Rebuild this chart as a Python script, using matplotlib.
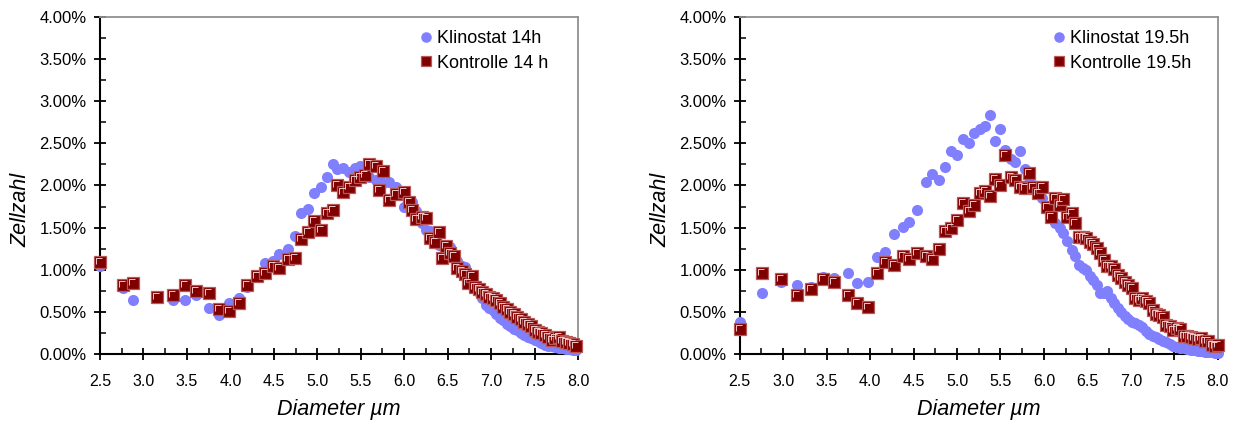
import matplotlib
matplotlib.use("Agg")
import matplotlib.pyplot as plt
from matplotlib.path import Path
from matplotlib.ticker import MultipleLocator, FuncFormatter

plt.rcParams['font.family'] = ['Liberation Sans', 'DejaVu Sans']

# ---- 14 h measurement: diameter (µm) and share of cells (%) ----
x_14h = [2.50, 2.77, 2.88, 3.15, 3.34, 3.48, 3.61, 3.75, 3.87, 3.98, 4.10, 4.19,
         4.31, 4.40, 4.49, 4.56, 4.66, 4.74, 4.81, 4.89, 4.96, 5.04, 5.11, 5.18,
         5.23, 5.30, 5.37, 5.43, 5.49, 5.55, 5.60, 5.67, 5.71, 5.76, 5.83, 5.91,
         6.00, 6.05, 6.09, 6.14, 6.20, 6.25, 6.30, 6.35, 6.40, 6.44, 6.48, 6.53,
         6.57, 6.61, 6.66, 6.70, 6.74, 6.78, 6.82, 6.86, 6.90, 6.94, 6.98, 7.02,
         7.06, 7.10, 7.14, 7.18, 7.22, 7.26, 7.30, 7.34, 7.38, 7.42, 7.46, 7.50,
         7.54, 7.58, 7.62, 7.66, 7.70, 7.74, 7.78, 7.82, 7.86, 7.90, 7.94, 7.98]
klino_14h = [1.04, 0.78, 0.645, 0.66, 0.645, 0.645, 0.70, 0.55, 0.46, 0.60, 0.66, 0.80,
             0.91, 1.08, 1.10, 1.19, 1.25, 1.40, 1.67, 1.72, 1.91, 1.98, 2.10, 2.26,
             2.19, 2.21, 2.155, 2.21, 2.23, 2.16, 2.10, 2.07, 2.04, 2.03, 2.04, 1.98,
             1.74, 1.78, 1.80, 1.70, 1.55, 1.47, 1.46, 1.32, 1.29, 1.28, 1.26, 1.27,
             1.18, 1.10, 1.05, 1.03, 0.95, 0.88, 0.80, 0.74, 0.66, 0.58, 0.55, 0.52,
             0.48, 0.43, 0.40, 0.36, 0.33, 0.30, 0.28, 0.25, 0.23, 0.20, 0.185, 0.17,
             0.15, 0.13, 0.11, 0.10, 0.09, 0.08, 0.075, 0.07, 0.06, 0.055, 0.05, 0.045]
kontr_14h = [1.09, 0.815, 0.84, 0.68, 0.70, 0.815, 0.745, 0.725, 0.53, 0.51, 0.61, 0.815,
             0.93, 0.965, 1.05, 1.02, 1.13, 1.14, 1.36, 1.45, 1.575, 1.47, 1.67, 1.71,
             2.00, 1.92, 1.98, 2.06, 2.10, 2.13, 2.25, 2.23, 1.95, 2.17, 1.83, 1.90,
             1.92, 1.80, 1.71, 1.60, 1.63, 1.615, 1.38, 1.33, 1.445, 1.14, 1.28, 1.20,
             1.16, 1.02, 0.98, 0.95, 0.84, 0.93, 0.80, 0.77, 0.74, 0.71, 0.68, 0.66,
             0.64, 0.60, 0.56, 0.53, 0.50, 0.47, 0.44, 0.41, 0.38, 0.36, 0.33, 0.29,
             0.26, 0.25, 0.23, 0.20, 0.17, 0.19, 0.20, 0.16, 0.14, 0.13, 0.12, 0.10]

# ---- 19.5 h measurement ----
x_195h = [2.50, 2.76, 2.97, 3.16, 3.32, 3.46, 3.59, 3.74, 3.85, 3.97, 4.08, 4.17,
          4.27, 4.38, 4.45, 4.54, 4.64, 4.71, 4.79, 4.86, 4.93, 5.00, 5.07, 5.14,
          5.20, 5.26, 5.32, 5.38, 5.44, 5.50, 5.55, 5.62, 5.67, 5.73, 5.78, 5.83,
          5.88, 5.93, 5.98, 6.03, 6.08, 6.13, 6.18, 6.22, 6.27, 6.32, 6.36, 6.40,
          6.45, 6.49, 6.53, 6.57, 6.61, 6.65, 6.69, 6.73, 6.77, 6.81, 6.85, 6.89,
          6.93, 6.97, 7.01, 7.05, 7.09, 7.13, 7.17, 7.21, 7.25, 7.29, 7.33, 7.37,
          7.41, 7.45, 7.49, 7.53, 7.57, 7.61, 7.65, 7.69, 7.73, 7.77, 7.81, 7.85,
          7.89, 7.93, 7.97, 8.00]
klino_195h = [0.38, 0.73, 0.86, 0.82, 0.80, 0.92, 0.90, 0.96, 0.84, 0.86, 1.15, 1.21,
              1.42, 1.51, 1.57, 1.71, 2.04, 2.14, 2.07, 2.22, 2.41, 2.36, 2.55, 2.51,
              2.62, 2.67, 2.71, 2.84, 2.53, 2.67, 2.42, 2.32, 2.28, 2.41, 2.19, 2.10,
              2.00, 1.92, 1.85, 1.75, 1.63, 1.55, 1.50, 1.44, 1.34, 1.24, 1.16, 1.06,
              1.02, 1.00, 0.93, 0.88, 0.82, 0.72, 0.72, 0.745, 0.66, 0.60, 0.55, 0.50,
              0.45, 0.42, 0.38, 0.37, 0.35, 0.32, 0.27, 0.24, 0.22, 0.20, 0.18, 0.16,
              0.14, 0.12, 0.10, 0.085, 0.075, 0.07, 0.06, 0.053, 0.045, 0.04, 0.035, 0.03,
              0.02, 0.02, 0.015, 0.015]
kontr_195h = [0.30, 0.96, 0.89, 0.705, 0.77, 0.895, 0.86, 0.705, 0.605, 0.56, 0.96, 1.09,
              1.06, 1.16, 1.13, 1.20, 1.16, 1.13, 1.25, 1.46, 1.50, 1.585, 1.79, 1.70,
              1.77, 1.91, 1.94, 1.87, 2.08, 2.01, 2.36, 2.10, 2.07, 1.98, 1.97, 2.15,
              1.98, 1.91, 1.98, 1.75, 1.63, 1.85, 1.77, 1.84, 1.63, 1.67, 1.56, 1.39,
              1.39, 1.38, 1.33, 1.30, 1.26, 1.20, 1.12, 1.04, 1.05, 1.01, 0.94, 0.90,
              0.85, 0.82, 0.78, 0.66, 0.64, 0.67, 0.63, 0.60, 0.52, 0.47, 0.46, 0.44,
              0.35, 0.33, 0.29, 0.31, 0.30, 0.22, 0.21, 0.20, 0.19, 0.18, 0.19, 0.16,
              0.15, 0.11, 0.10, 0.11]

x_ticks = [2.5, 3.0, 3.5, 4.0, 4.5, 5.0, 5.5, 6.0, 6.5, 7.0, 7.5, 8.0]
panels = [
    (x_14h, klino_14h, kontr_14h, "Klinostat 14h", "Kontrolle 14 h"),
    (x_195h, klino_195h, kontr_195h, "Klinostat 19.5h", "Kontrolle 19.5h"),
]

CIRCLE = "#8080FF"
SQUARE = "#800000"
SQUARE_EDGE = "#B85858"
HILITE = "#F2C8C8"

# small bright corner drawn inside each square for the bevelled look
corner = Path([(-0.55, -0.35), (-0.55, 0.55), (0.35, 0.55)],
              [Path.MOVETO, Path.LINETO, Path.LINETO])

fig = plt.figure(figsize=(12.35, 4.23), dpi=100)
boxes = [[0.081, 0.163, 0.387, 0.797], [0.599, 0.163, 0.387, 0.797]]
legend_left = [0.663, 0.650]

for box, lx, (xs, kl, ko, lab_k, lab_c) in zip(boxes, legend_left, panels):
    ax = fig.add_axes(box)
    ax.plot(xs, kl, linestyle="none", marker="o", markersize=8,
            markerfacecolor=CIRCLE, markeredgecolor=CIRCLE, markeredgewidth=0,
            clip_on=False, zorder=3, label=lab_k)
    ax.plot(xs, ko, linestyle="none", marker="s", markersize=8.2,
            markerfacecolor=SQUARE, markeredgecolor=SQUARE_EDGE, markeredgewidth=0.9,
            clip_on=False, zorder=4, label=lab_c)
    ax.plot(xs, ko, linestyle="none", marker=corner, markersize=5.2,
            markerfacecolor="none", markeredgecolor=HILITE, markeredgewidth=0.7,
            clip_on=False, zorder=5)

    ax.set_xlim(2.5, 8.0)
    ax.set_ylim(0, 4.0)
    ax.set_xticks(x_ticks)
    ax.xaxis.set_major_formatter(FuncFormatter(lambda v, p: f"{v:.1f}"))
    ax.xaxis.set_minor_locator(MultipleLocator(0.25))
    ax.yaxis.set_major_locator(MultipleLocator(0.5))
    ax.yaxis.set_minor_locator(MultipleLocator(0.25))
    ax.yaxis.set_major_formatter(FuncFormatter(lambda v, p: f"{v:.2f}%"))

    ax.tick_params(which="major", direction="inout", length=9, width=1.3,
                   colors="black")
    ax.tick_params(which="minor", direction="in", length=4, width=1.1)
    ax.tick_params(axis="x", which="major", labelsize=11.5, pad=10)
    ax.tick_params(axis="y", which="major", labelsize=12, pad=5)
    for side in ("left", "bottom"):
        ax.spines[side].set_linewidth(1.5)
        ax.spines[side].set_color("black")
    for side in ("top", "right"):
        ax.spines[side].set_linewidth(1.3)
        ax.spines[side].set_color("#909090")

    ax.set_xlabel("Diameter µm", fontsize=15.5, fontstyle="italic")
    ax.set_ylabel("Zellzahl", fontsize=15.5, fontstyle="italic")
    ax.xaxis.set_label_coords(0.5, -0.132)
    ax.yaxis.set_label_coords(-0.143, 0.427)

    ax.legend(loc="upper left", bbox_to_anchor=(lx, 0.961), frameon=False,
              fontsize=13, handletextpad=0.1, handlelength=1.0,
              labelspacing=0.42, borderaxespad=0.0, borderpad=0.0,
              markerscale=0.95)

fig.savefig("out.png", dpi=100, facecolor="white")
